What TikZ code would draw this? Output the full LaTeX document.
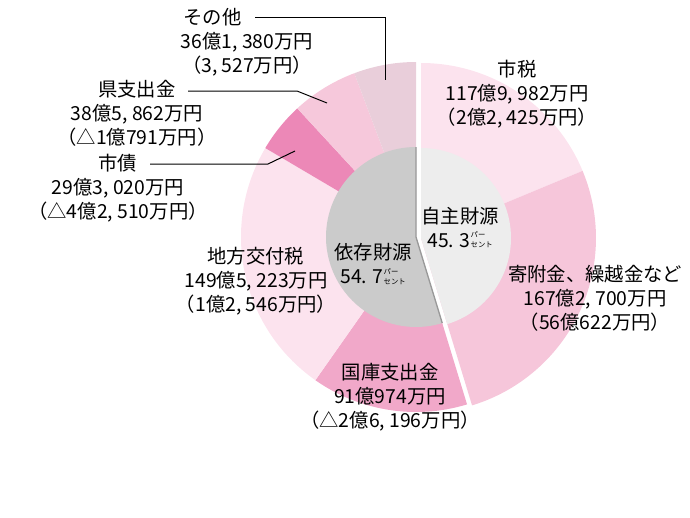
\documentclass[tikz,border=0pt]{standalone}
\usepackage{fontspec}
\setmainfont{Noto Sans CJK JP}
\tikzset{every picture/.style={line width=0.75pt}}
\tikzset{
  lbl/.style={inner sep=0pt, font=\fontsize{14.5}{18}\selectfont, align=center},
  leader/.style={draw=black, line width=0.75pt}
}
\definecolor{cTax}{HTML}{FCE3EE}
\definecolor{cKifu}{HTML}{F6C6DA}
\definecolor{cKoko}{HTML}{F1A8C9}
\definecolor{cChiho}{HTML}{FCE3EE}
\definecolor{cSisai}{HTML}{EC88B7}
\definecolor{cKen}{HTML}{F6C8DB}
\definecolor{cOther}{HTML}{E9CEDA}
\definecolor{cJishu}{HTML}{EDEDED}
\definecolor{cIzon}{HTML}{CBCBCB}
\newcommand{\sect}[3]{\fill[#3] (0,0) -- (-#1:175) arc[start angle=-#1,end angle=-#2,radius=175] -- cycle;}
\newcommand{\paa}{\smash{\raisebox{-0.5pt}{\fontsize{5.5}{5}\selectfont\shortstack[l]{パー\\セント}}}}

\begin{document}
\begin{tikzpicture}[x=0.75pt,y=0.75pt,yscale=-1,xscale=1]
\useasboundingbox (0,0) rectangle (690,518);

%Dependent half
\begin{scope}[shift={(416,237)}]
\sect{-73.04}{-125.10}{cKoko}
\sect{-125.10}{-210.55}{cChiho}
\sect{-210.55}{-227.30}{cSisai}
\sect{-227.30}{-249.35}{cKen}
\sect{-249.35}{-270}{cOther}
\fill[cIzon] (0,0) -- (-90:90) arc[start angle=-90,end angle=-286.96,radius=90] -- cycle;
\draw[gray!80,line width=1pt] (-90:90) -- (0,0) -- (-286.96:90);
\end{scope}

%Own half
\begin{scope}[shift={(421,238)}]
\sect{90}{22.56}{cTax}
\sect{22.56}{-73.04}{cKifu}
\fill[cJishu] (0,0) -- (-90:90) arc[start angle=-90,end angle=73.04,radius=90] -- cycle;
\end{scope}

%Leaders
\draw[leader] (255,17) -- (385,17) -- (385,80);
\draw[leader] (188,91) -- (297,91) -- (327,103);
\draw[leader] (150,164) -- (268,164) -- (295,151);

% Labels
\node[lbl, anchor=west] (otherA) at (183,17) {その他};
\node[lbl] (otherB) at (247,54) {36億1, 380万円\\（3, 527万円）};
\node[lbl] (ken) at (137,113) {県支出金\\38億5, 862万円\\（△1億791万円）};
\node[lbl] (sisai) at (118,188) {市債\\29億3, 020万円\\（△4億2, 510万円）};
\node[lbl] (chiho) at (256,281) {地方交付税\\149億5, 223万円\\（1億2, 546万円）};
\node[lbl] (koko) at (390,397) {国庫支出金\\91億974万円\\（△2億6, 196万円）};
\node[lbl] (tax) at (517,94) {市税\\117億9, 982万円\\（2億2, 425万円）};
\node[lbl] (kifu) at (595,298) {寄附金、繰越金など\\167億2, 700万円\\（56億622万円）};
\node[lbl] (jishu) at (460,227) {自主財源\\45. 3\paa};
\node[lbl] (izon) at (373,264) {依存財源\\54. 7\paa};
\end{tikzpicture}
\end{document}
